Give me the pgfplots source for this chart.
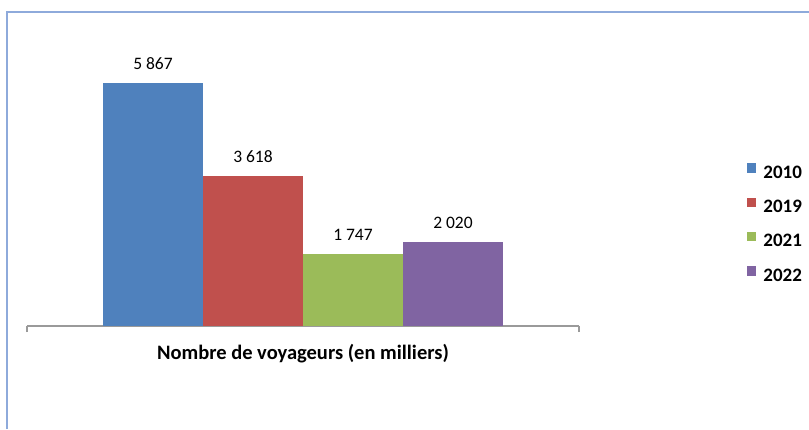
\documentclass[border=0pt]{standalone}
\usepackage{fontspec}
\setmainfont{Carlito}
\usepackage{pgfplots}
\pgfplotsset{compat=1.18}
\definecolor{c1}{HTML}{4F81BD}
\definecolor{c2}{HTML}{C0504D}
\definecolor{c3}{HTML}{9BBB59}
\definecolor{c4}{HTML}{8064A2}
\definecolor{framec}{HTML}{8EAADB}
\definecolor{axisc}{HTML}{9A9A9A}
\begin{document}
\begin{tikzpicture}[x=1pt,y=1pt]
\path[use as bounding box] (0,0) rectangle (809,429);
\draw[framec, line width=2pt] (7,0) -- (7,417) -- (810,417);
\begin{axis}[
  at={(27pt,103pt)}, anchor=south west,
  width=552pt, height=290pt, scale only axis,
  xmin=-1, xmax=1, ymin=0, ymax=7000,
  ybar=0pt, bar width=100pt,
  axis x line*=bottom, axis y line=none,
  x axis line style={draw=axisc, line width=1.3pt},
  xtick={-1,1}, xticklabels={}, tick align=outside, major tick length=6pt,
  xtick style={draw=axisc, line width=1.3pt},
  ytick=\empty,
  xlabel={\textbf{Nombre de voyageurs (en milliers)}},
  xlabel style={at={(rel axis cs:0.5,0)}, anchor=base, yshift=-33pt, inner sep=0pt, font=\fontsize{20.5}{24}\selectfont},
  nodes near coords, point meta=explicit symbolic,
  every node near coord/.append style={font=\fontsize{17.5}{20}\selectfont, color=black, anchor=south, inner sep=0pt, yshift=13pt},
  legend image code/.code={\path[#1,draw=none] (0pt,0pt) rectangle (9.5pt,9.5pt);},
  legend style={at={(1.3043,0.561)}, anchor=north west, draw=none, fill=none,
    inner sep=0pt, outer sep=0pt, nodes={inner sep=0pt}, column sep=7pt, row sep=17.8pt,
    font=\fontsize{19}{22}\selectfont\bfseries},
  legend cell align=left,
  clip=false,
]
\addplot[fill=c1, draw=none] coordinates {(0,5867) [5 867]};
\addplot[fill=c2, draw=none] coordinates {(0,3618) [3 618]};
\addplot[fill=c3, draw=none] coordinates {(0,1747) [1 747]};
\addplot[fill=c4, draw=none] coordinates {(0,2020) [2 020]};
\legend{2010,2019,2021,2022}
\end{axis}
\end{tikzpicture}
\end{document}
